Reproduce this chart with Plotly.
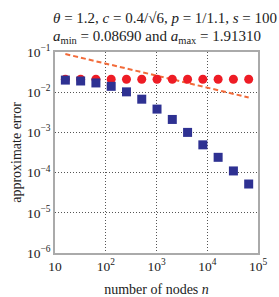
import plotly.graph_objects as go

n_nodes = [16, 32, 64, 128, 256, 512, 1024, 2048, 4096, 8192, 16384, 32768, 65536]
err_blue = [0.020, 0.019, 0.017, 0.014, 0.0102, 0.0067, 0.0038, 0.0021, 0.0010,
            0.00049, 0.00024, 0.00011, 0.000052]
err_red = [0.021, 0.021, 0.021, 0.021, 0.021, 0.021, 0.021, 0.021, 0.021,
           0.021, 0.021, 0.021, 0.021]
ref_n = [16, 65536]
ref_err = [0.089, 0.0074]

x_tickvals = [10, 100, 1000, 10000, 100000]
x_ticktext = ["10", "10<sup>2</sup>", "10<sup>3</sup>", "10<sup>4</sup>", "10<sup>5</sup>"]
y_tickvals = [1e-6, 1e-5, 1e-4, 1e-3, 1e-2, 1e-1]
y_ticktext = ["10<sup>−6</sup>", "10<sup>−5</sup>", "10<sup>−4</sup>",
              "10<sup>−3</sup>", "10<sup>−2</sup>", "10<sup>−1</sup>"]

FONT = "Liberation Serif, DejaVu Serif, serif"

fig = go.Figure()
fig.add_trace(go.Scatter(x=ref_n, y=ref_err, mode="lines",
                         line=dict(color="#f26b3a", width=2, dash="5px,3px"),
                         showlegend=False))
fig.add_trace(go.Scatter(x=n_nodes, y=err_red, mode="markers",
                         marker=dict(symbol="circle", size=9, color="#ee1c25"),
                         showlegend=False))
fig.add_trace(go.Scatter(x=n_nodes, y=err_blue, mode="markers",
                         marker=dict(symbol="square", size=9, color="#2e3192"),
                         showlegend=False))

L, R, T, B = 55, 21, 52, 44
plot_h = 297 - T - B

fig.update_layout(
    width=279, height=297,
    margin=dict(l=L, r=R, t=T, b=B),
    paper_bgcolor="white", plot_bgcolor="white",
    font=dict(family=FONT, size=13, color="#222"),
    xaxis=dict(type="log", range=[1, 5], tickvals=x_tickvals, ticktext=x_ticktext,
               showgrid=True, gridcolor="#555", griddash="1px,2px", gridwidth=1,
               showline=True, mirror=True, linecolor="#aaa", linewidth=1.5,
               ticks="", zeroline=False, automargin=False,
               title=dict(text="number of nodes <i>n</i>", standoff=12,
                          font=dict(size=14, family=FONT)),
               tickfont=dict(size=13.5, family=FONT)),
    yaxis=dict(type="log", range=[-6, -1], tickvals=y_tickvals, ticktext=y_ticktext,
               showgrid=True, gridcolor="#555", griddash="1px,2px", gridwidth=1,
               showline=True, mirror=True, linecolor="#aaa", linewidth=1.5,
               ticks="", zeroline=False, automargin=False,
               title=dict(text="approximate error", standoff=2,
                          font=dict(size=14, family=FONT)),
               tickfont=dict(size=13.5, family=FONT)),
    annotations=[
        dict(text="<i>θ</i> = 1.2, <i>c</i> = 0.4/√6, <i>p</i> = 1/1.1, <i>s</i> = 100",
             x=0.54, xref="paper", y=1 + (T - 18) / plot_h, yref="paper",
             xanchor="center", yanchor="middle", showarrow=False,
             font=dict(size=15, family=FONT)),
        dict(text="<i>a</i><sub>min</sub> = 0.08690 and <i>a</i><sub>max</sub> = 1.91310",
             x=0.5, xref="paper", y=1 + (T - 37) / plot_h, yref="paper",
             xanchor="center", yanchor="middle", showarrow=False,
             font=dict(size=15, family=FONT)),
    ],
)
fig.write_html("out.html", config={"displayModeBar": False},
               post_script="document.body.style.margin='0';document.body.style.padding='0';")
